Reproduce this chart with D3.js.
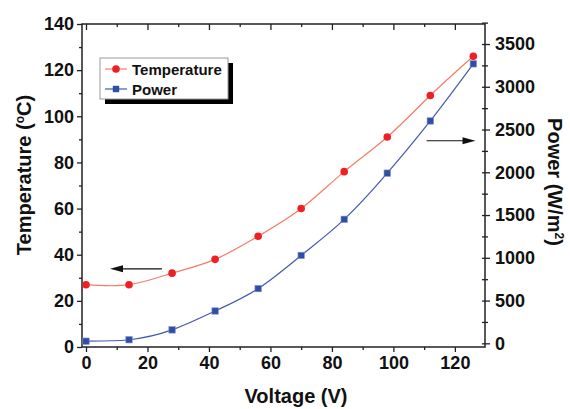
<!DOCTYPE html>
<html>
<head>
<meta charset="utf-8">
<script src="https://cdn.jsdelivr.net/npm/d3@7"></script>
<style>
  body { margin:0; background:#fff; }
  text { font-family:"Liberation Sans", Arial, sans-serif; font-weight:bold; fill:#111; }
</style>
</head>
<body>
<div id="chart"></div>
<script>
// values
var voltage = [0, 14, 28, 42, 56, 70, 84, 98, 112, 126];
var temperature = [27, 27, 32, 38, 48, 60, 76, 91, 109, 126];
var power = [25, 42, 157, 378, 640, 1028, 1450, 1990, 2600, 3268];
var xTicks = [0, 20, 40, 60, 80, 100, 120];
var tempTicks = [0, 20, 40, 60, 80, 100, 120, 140];
var powerTicks = [0, 500, 1000, 1500, 2000, 2500, 3000, 3500];
var seriesNames = ['Temperature', 'Power'];
// arrows, in data units: [x1, x2, temperature]
var arrows = [[24.7, 7.8, 33.9], [110.8, 126.7, 89.4]];

var width = 570, height = 409;
var margin = {top:24, right:85, bottom:62, left:82};
var redLine = '#f47c66', redDot = '#ee2024';
var blueLine = '#4558b0', blueDot = '#2f4ea6';

var svg = d3.select('#chart').append('svg')
  .attr('width', width).attr('height', height);

var x = d3.scaleLinear().domain([-1.3, 129.8]).range([margin.left, width - margin.right]);
var yT = d3.scaleLinear().domain([0, 140]).range([height - margin.bottom, margin.top]);
var yP = d3.scaleLinear().domain([-43, 3734]).range([height - margin.bottom, margin.top]);

function minorTicks(a, step){
  var out = [];
  for (var i = 0; i < a.length - 1; i++) out.push((a[i] + a[i+1]) / 2);
  if (step) out.push(a[a.length-1] + step / 2);
  return out;
}

// frame + axes
var axBottom = svg.append('g').attr('transform', 'translate(0,' + (height - margin.bottom) + ')');
axBottom.call(d3.axisBottom(x).tickValues(xTicks).tickSize(5).tickPadding(4).tickSizeOuter(0));
axBottom.append('g').call(d3.axisBottom(x).tickValues(minorTicks(xTicks)).tickSize(3).tickFormat('').tickSizeOuter(0));

var axTop = svg.append('g').attr('transform', 'translate(0,' + margin.top + ')');
axTop.call(d3.axisBottom(x).tickValues(xTicks).tickSize(6).tickFormat('').tickSizeOuter(0));
axTop.append('g').call(d3.axisBottom(x).tickValues(minorTicks(xTicks)).tickSize(3).tickFormat('').tickSizeOuter(0));

var axLeft = svg.append('g').attr('transform', 'translate(' + margin.left + ',0)');
axLeft.call(d3.axisLeft(yT).tickValues(tempTicks).tickSize(5).tickPadding(3).tickSizeOuter(0));
axLeft.append('g').call(d3.axisLeft(yT).tickValues(minorTicks(tempTicks)).tickSize(3).tickFormat('').tickSizeOuter(0));

var axRight = svg.append('g').attr('transform', 'translate(' + (width - margin.right) + ',0)');
axRight.call(d3.axisRight(yP).tickValues(powerTicks).tickFormat(d3.format('d')).tickSize(5).tickPadding(5).tickSizeOuter(0));
axRight.append('g').call(d3.axisRight(yP).tickValues(minorTicks(powerTicks, 500)).tickSize(3).tickFormat('').tickSizeOuter(0));
axRight.append('g').call(d3.axisLeft(yP).tickValues(powerTicks.concat(minorTicks(powerTicks, 500))).tickSize(3).tickFormat('').tickSizeOuter(0));

svg.selectAll('.domain').remove();
svg.append('rect')
  .attr('x', margin.left).attr('y', margin.top)
  .attr('width', width - margin.left - margin.right)
  .attr('height', height - margin.top - margin.bottom)
  .attr('fill', 'none').attr('stroke', '#222').attr('stroke-width', 1.5);

svg.selectAll('.tick line').attr('stroke', '#222').attr('stroke-width', 1.3);
svg.selectAll('.tick text').style('font-size', '18px').attr('fill', '#111');

// axis titles
var tTitle = svg.append('text')
  .attr('transform', 'translate(' + 31 + ',' + 175 + ') rotate(-90)')
  .attr('text-anchor', 'middle').style('font-size', '20px');
tTitle.append('tspan').text('Temperature (');
tTitle.append('tspan').attr('dy', -7).style('font-size', '12px').text('o');
tTitle.append('tspan').attr('dy', 7).text('C)');

var pTitle = svg.append('text')
  .attr('transform', 'translate(' + 548 + ',' + 182 + ') rotate(90)')
  .attr('text-anchor', 'middle').style('font-size', '20px');
pTitle.append('tspan').text('Power (W/m');
pTitle.append('tspan').attr('dy', -7).style('font-size', '12px').text('2');
pTitle.append('tspan').attr('dy', 7).text(')');

svg.append('text')
  .attr('x', 296).attr('y', 403)
  .attr('text-anchor', 'middle').style('font-size', '20px')
  .text('Voltage (V)');

// lines
var tLine = d3.line().x(function(d){ return x(d[0]); }).y(function(d){ return yT(d[1]); }).curve(d3.curveNatural);
var pLine = d3.line().x(function(d){ return x(d[0]); }).y(function(d){ return yP(d[1]); }).curve(d3.curveNatural);

var tData = d3.zip(voltage, temperature);
var pData = d3.zip(voltage, power);

svg.append('path').datum(tData).attr('d', tLine)
  .attr('fill', 'none').attr('stroke', redLine).attr('stroke-width', 1.2);
svg.append('path').datum(pData).attr('d', pLine)
  .attr('fill', 'none').attr('stroke', blueLine).attr('stroke-width', 1.2);

svg.selectAll('circle.temp').data(tData).enter().append('circle')
  .attr('class', 'temp')
  .attr('cx', function(d){ return x(d[0]); })
  .attr('cy', function(d){ return yT(d[1]); })
  .attr('r', 3.8).attr('fill', redDot);

svg.selectAll('rect.pow').data(pData).enter().append('rect')
  .attr('class', 'pow')
  .attr('x', function(d){ return x(d[0]) - 3.2; })
  .attr('y', function(d){ return yP(d[1]) - 3.2; })
  .attr('width', 6.4).attr('height', 6.4)
  .attr('fill', blueDot).attr('stroke', '#7b8fcf').attr('stroke-width', 0.6);

// arrows
arrows.forEach(function(a){
  var x1 = x(a[0]), x2 = x(a[1]), yy = yT(a[2]);
  var dir = x2 > x1 ? 1 : -1;
  svg.append('line')
    .attr('x1', x1).attr('x2', x2 - dir * 10).attr('y1', yy).attr('y2', yy)
    .attr('stroke', '#111').attr('stroke-width', 1.2);
  svg.append('path')
    .attr('d', 'M' + x2 + ',' + yy + 'L' + (x2 - dir * 13) + ',' + (yy - 3.5) + 'L' + (x2 - dir * 13) + ',' + (yy + 3.5) + 'Z')
    .attr('fill', '#111');
});

// legend
var lg = svg.append('g').attr('transform', 'translate(100,58)');
lg.append('rect').attr('x', 5).attr('y', 5).attr('width', 128).attr('height', 41).attr('fill', '#000');
lg.append('rect').attr('x', 0).attr('y', 0).attr('width', 128).attr('height', 41)
  .attr('fill', '#fff').attr('stroke', '#999').attr('stroke-width', 1);

seriesNames.forEach(function(name, i){
  var yy = 11 + i * 20;
  var row = lg.append('g').attr('transform', 'translate(0,' + yy + ')');
  row.append('line').attr('x1', 5).attr('x2', 27).attr('y1', 0).attr('y2', 0)
    .attr('stroke', i ? blueLine : redLine).attr('stroke-width', 1.2);
  if (i) {
    row.append('rect').attr('x', 16 - 3.2).attr('y', -3.2).attr('width', 6.4).attr('height', 6.4)
      .attr('fill', blueDot);
  } else {
    row.append('circle').attr('cx', 16).attr('cy', 0).attr('r', 3.8).attr('fill', redDot);
  }
  row.append('text').attr('x', 32).attr('y', 5.5).style('font-size', '15px').text(name);
});
</script>
</body>
</html>
